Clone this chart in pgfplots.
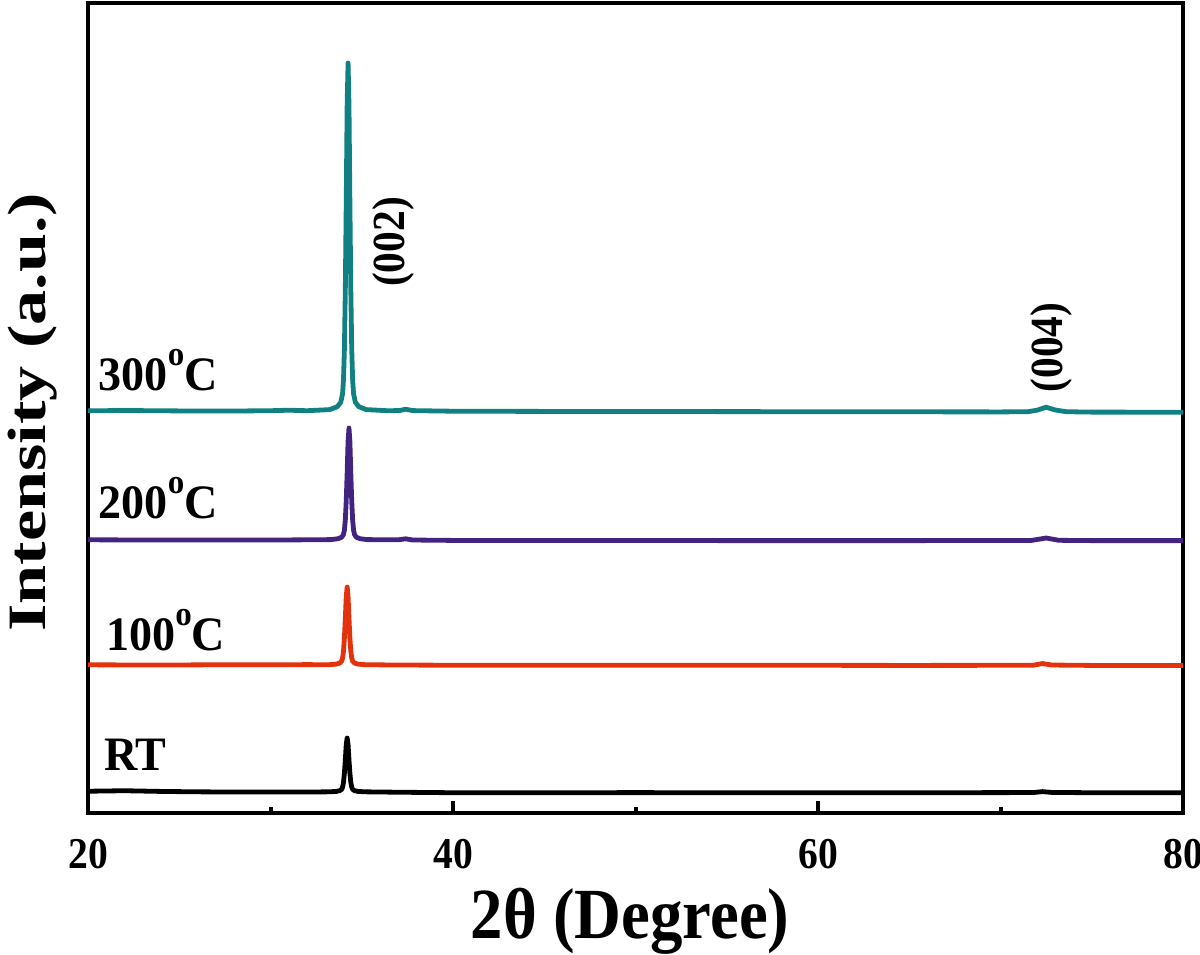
\documentclass[border=0pt]{standalone}
\usepackage{pgfplots}
\pgfplotsset{compat=1.18}
\usepackage{fontspec}
\setmainfont{Liberation Serif}
\newfontfamily\cf[FakeStretch=0.9]{Liberation Serif}
\newfontfamily\lf[FakeStretch=0.96]{Liberation Serif}
\newfontfamily\wf[FakeStretch=1.3]{Liberation Serif}
\definecolor{cteal}{RGB}{16,128,128}
\definecolor{cpurple}{RGB}{66,36,128}
\definecolor{cred}{RGB}{228,50,12}
\newcommand{\dego}{\raisebox{6.2pt}{\fontsize{8.6}{8.6}\selectfont o}}
\begin{document}
\begin{tikzpicture}
\begin{axis}[
  scale only axis,
  width=273.75pt, height=202.5pt,
  xmin=20, xmax=80, ymin=0, ymax=810,
  axis line style={line width=1pt},
  xtick={20,40,60,80},
  minor xtick={30,50,70},
  ytick=\empty,
  tick pos=bottom,
  tick align=inside,
  major tick length=3pt,
  minor tick length=1.6pt,
  tick style={line width=1pt, black},
  xticklabel style={font=\fontsize{11}{13}\selectfont\cf\bfseries, anchor=base, yshift=-13.75pt},
  /pgf/number format/assume math mode=true,
  every axis plot/.append style={line width=1.2pt, line join=round, line cap=round},
]
% RT
\addplot[black] coordinates {
(20,21.8)(22,22.3)(24,21.6)(26,21.2)(28,21.0)(30,21.1)(32,21.0)(33.2,21.2)(33.6,21.6)(33.8,22.4)(33.9,23.7)(33.95,25.9)(34.0,30.7)(34.05,39.9)(34.1,53.4)(34.15,68.5)(34.2,75)(34.25,68.5)(34.3,53.4)(34.35,39.9)(34.4,30.7)(34.45,25.9)(34.5,23.7)(34.6,22.4)(34.8,21.6)(35.2,21.2)(37,20.8)(40,20.3)(45,20.3)(50,20.4)(55,20.3)(60,20.3)(65,20.3)(70,20.4)(71.8,20.5)(72.3,21.4)(72.8,20.6)(75,20.3)(80,20.3)
};
% 100C
\addplot[cred] coordinates {
(20,148.2)(24,148.0)(28,148.3)(30,148.2)(32,148.4)(33.2,148.3)(33.6,148.9)(33.8,150.0)(33.9,151.9)(33.95,155.0)(34.0,162.0)(34.05,175.3)(34.1,194.8)(34.15,216.6)(34.2,226)(34.25,216.6)(34.3,194.8)(34.35,175.3)(34.4,162.0)(34.45,155.0)(34.5,151.9)(34.6,150.0)(34.8,148.9)(35.2,148.3)(37,148.0)(40,147.8)(45,147.7)(50,147.8)(55,147.7)(60,147.7)(65,147.6)(70,147.7)(71.8,147.8)(72.3,149.5)(72.8,148.0)(75,147.6)(80,147.6)
};
% 200C
\addplot[cpurple] coordinates {
(20,273.2)(24,273.0)(28,273.1)(30,273.0)(32,273.2)(33.3,273.4)(33.7,274.3)(33.9,275.8)(34.0,278.6)(34.05,283.1)(34.1,293.2)(34.15,312.2)(34.2,340.2)(34.25,371.6)(34.3,385)(34.35,371.6)(34.4,340.2)(34.45,312.2)(34.5,293.2)(34.55,283.1)(34.6,278.6)(34.7,275.8)(34.9,274.3)(35.3,273.4)(37,273.2)(37.4,274.2)(37.8,273.0)(40,272.6)(45,272.5)(50,272.6)(55,272.4)(60,272.4)(65,272.4)(70,272.5)(71.7,272.6)(72.5,275.0)(73.2,272.7)(75,272.4)(80,272.4)
};
% 300C
\addplot[cteal] coordinates {
(20,402.2)(22,402.5)(25,402.1)(28,402.0)(30,402.3)(31,402.8)(32,402.3)(33.25,403.4)(33.65,406.2)(33.85,410.7)(33.95,419.4)(34.0,433.3)(34.05,464.6)(34.1,523.8)(34.15,610.8)(34.2,708.2)(34.25,750)(34.3,708.2)(34.35,610.8)(34.4,523.8)(34.45,464.6)(34.5,433.3)(34.55,419.4)(34.65,410.7)(34.85,406.2)(35.25,403.4)(36.5,402.2)(37.1,402.6)(37.4,403.8)(37.8,402.4)(40,401.8)(45,401.6)(50,401.5)(55,401.4)(60,401.3)(65,401.2)(70,401.1)(71.5,401.3)(72.0,402.8)(72.5,405.8)(73.0,403.0)(73.6,401.3)(75,400.9)(80,400.8)
};
\node[anchor=base west, font=\fontsize{12}{14}\selectfont\lf\bfseries, inner sep=0pt] at (axis cs:20.55,423) {300\dego C};
\node[anchor=base west, font=\fontsize{12}{14}\selectfont\lf\bfseries, inner sep=0pt] at (axis cs:20.55,295) {200\dego C};
\node[anchor=base west, font=\fontsize{12}{14}\selectfont\lf\bfseries, inner sep=0pt] at (axis cs:20.95,163) {100\dego C};
\node[anchor=base west, font=\fontsize{12}{14}\selectfont\lf\bfseries, inner sep=0pt] at (axis cs:20.85,43) {RT};
\node[rotate=90, font=\fontsize{11.5}{14}\selectfont\cf\bfseries, inner sep=0pt] at (axis cs:36.71,571) {(002)};
\node[rotate=90, font=\fontsize{11.5}{14}\selectfont\cf\bfseries, inner sep=0pt] at (axis cs:72.77,465.5) {(004)};
\coordinate (SW) at (rel axis cs:0,0);
\coordinate (NE) at (rel axis cs:1,1);
\coordinate (YL) at (rel axis cs:0,0.495);
\coordinate (XL) at (rel axis cs:0.495,0);
\end{axis}
\node[rotate=90, anchor=base, inner sep=0pt, font=\fontsize{13.5}{16}\selectfont\wf\bfseries] at ([xshift=-10.75pt]YL) {Intensity (a.u.)};
\node[anchor=base, inner sep=0pt, font=\fontsize{18}{21}\selectfont\cf\bfseries] at ([yshift=-31.25pt]XL) {2θ (Degree)};
\pgfresetboundingbox
\path ([shift={(-22pt,-35.25pt)}]SW) rectangle ([shift={(4.25pt,0.75pt)}]NE);
\end{tikzpicture}
\end{document}
